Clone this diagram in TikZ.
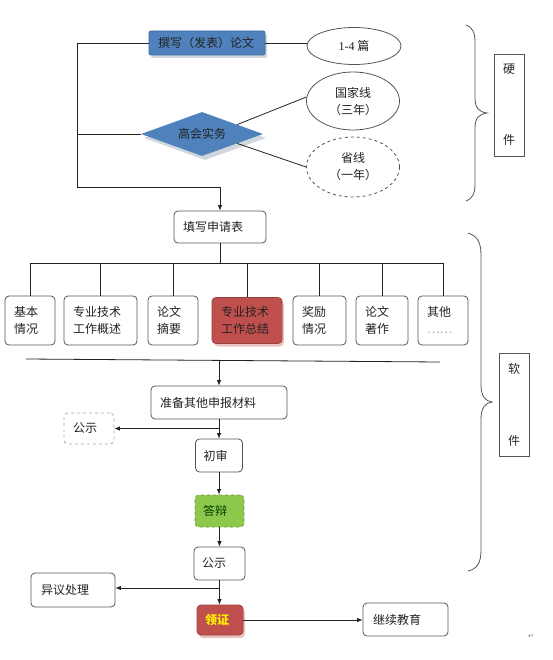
\documentclass[tikz,border=0pt]{standalone}
\usepackage{fontspec}
\setmainfont{Noto Sans CJK SC}
\newfontfamily\latserif{Liberation Serif}
\newfontfamily\dejavu{DejaVu Sans}
\usetikzlibrary{shapes.geometric,arrows.meta,shadows}
\definecolor{offblue}{HTML}{4F81BD}
\definecolor{blueedge}{HTML}{3B689F}
\definecolor{offred}{HTML}{C0504D}
\definecolor{offgreen}{HTML}{8CC84B}
\definecolor{greenedge}{HTML}{7A8F3A}
\definecolor{bord}{HTML}{555555}
\definecolor{txt}{HTML}{222222}
\definecolor{shadowgray}{HTML}{CFD6DE}
\definecolor{shadowred}{HTML}{E8C4C2}
\begin{document}
\begin{tikzpicture}[x=1pt,y=-1pt,
  base/.style={font=\fontsize{12}{17}\selectfont, text=txt},
  lbox/.style={base, draw=bord, line width=0.8pt, rounded corners=4pt, align=left,
    inner xsep=9pt, inner ysep=0pt, text width=#1},
  ell/.style={base, ellipse, draw=bord, line width=0.8pt, align=center, inner sep=0pt},
  sidebox/.style={base, draw=bord, line width=0.8pt, align=center, inner sep=0pt,
    minimum width=30pt},
  ln/.style={draw=txt, line width=0.8pt},
  arr/.style={ln, -{Latex[length=5.5pt,width=4.5pt]}},
  brace/.style={draw=bord, line width=0.8pt},
  redbox/.style={fill=offred, draw=offred!80!black,
    drop shadow={shadow xshift=2pt, shadow yshift=-3pt, fill=shadowred, opacity=1}},
]
\useasboundingbox (0,0) rectangle (553,660);

% ---------- hardware part ----------
\node[lbox=98pt, fill=offblue, draw=blueedge, minimum height=24pt, rounded corners=2pt,
  drop shadow={shadow xshift=2pt, shadow yshift=-3pt, fill=shadowgray, opacity=1}]
  (paper) at (207,43) {撰写（发表）论文};
\node[ell, minimum width=94pt, minimum height=37pt] (e1) at (354,46) {{\latserif 1-4} 篇};
\node[base, diamond, aspect=2.8, fill=offblue, minimum width=122pt, minimum height=44pt,
  inner sep=0pt,
  drop shadow={shadow xshift=3pt, shadow yshift=-4pt, fill=shadowgray, opacity=1}]
  (dia) at (202,134) {高会实务};
\node[ell, minimum width=93pt, minimum height=58pt] (e2) at (353,101) {国家线\\（三年）};
\node[ell, dashed, minimum width=93pt, minimum height=60pt] (e3) at (353,167) {省线\\（一年）};

\draw[ln] (paper.east) -- (paper.east -| e1.west);
\draw[ln] (dia.15) -- (e2.175);
\draw[ln] (dia.-15) -- (e3.west);

\node[lbox=74pt, minimum height=32pt] (fill) at (220,227) {填写申请表};
\coordinate (lc) at (77,187);
\draw[arr] (paper.west) -| (lc) -| (fill.north);
\draw[ln] (dia.west) -- (dia.west -| lc);

% ---------- materials row ----------
\node[lbox=32pt, minimum height=49pt] (b1) at (30,320.5) {基本\\情况};
\node[lbox=55pt, minimum height=49pt] (b2) at (100.5,320.5) {专业技术\\工作概述};
\node[lbox=32pt, minimum height=49pt] (b3) at (173,320.5) {论文\\摘要};
\node[lbox=52pt, minimum height=46pt, redbox] (b4) at (247,320.5) {专业技术\\工作总结};
\node[lbox=35pt, minimum height=49pt] (b5) at (319.5,320.5) {奖励\\情况};
\node[lbox=34pt, minimum height=49pt] (b6) at (382,320.5) {论文\\著作};
\node[lbox=32pt, minimum height=49pt] (b7) at (443,320.5) {其他\\{\color{gray!70}……}};

\coordinate (bus) at (219,263);
\draw[ln] (fill.south) -- (fill.south |- bus);
\draw[ln] (b1.north |- bus) -- (b7.north |- bus);
\foreach \b in {b1,b2,b3,b4,b5,b6,b7} \draw[ln] (\b.north |- bus) -- (\b.north);

\coordinate (s1) at (26,359);
\coordinate (s2) at (440,362);
\draw[ln] (s1) -- (s2);

% ---------- procedure ----------
\node[lbox=118pt, minimum height=33pt] (prep) at (219,402.5) {准备其他申报材料};
\coordinate (sm) at (219,361);
\draw[arr] (sm) -- (prep.north);

\node[lbox=32pt, minimum height=31pt, draw=gray!70, dashed] (gs1) at (89,428.5) {公示};
\node[lbox=31pt, minimum height=33pt, inner xsep=8pt] (cs) at (219,455.5) {初审};
\node[lbox=33pt, minimum height=32pt, inner xsep=8pt, fill=offgreen, draw=greenedge, dashed,
  text=green!25!black] (db) at (219.5,511) {答辩};
\node[lbox=35pt, minimum height=33pt, inner xsep=8pt] (gs2) at (219.5,563.5) {公示};
\node[lbox=30pt, minimum height=30pt, inner xsep=8pt, redbox, text=yellow,
  font=\bfseries\fontsize{12}{17}\selectfont] (lz) at (220,620) {领证};
\node[lbox=64pt, minimum height=34pt, inner xsep=10pt] (yy) at (73,590) {异议处理};
\node[lbox=65pt, minimum height=33pt, inner xsep=10pt] (jx) at (405.5,619.5) {继续教育};

\draw[arr] (prep.south) -- (prep.south |- cs.north);
\draw[arr] (prep.south |- gs1.east) -- (gs1.east);
\draw[arr] (cs.south) -- (cs.south |- db.north);
\draw[arr] (db.south) -- (db.south |- gs2.north);
\draw[arr] (gs2.south) -- (gs2.south |- lz.north);
\coordinate (yb) at (219.5,588);
\draw[arr] (yb) -- (yb -| yy.east);
\draw[arr] (lz.east) -- (lz.east -| jx.west);

% ---------- braces and side labels ----------
\draw[brace] (466,25) .. controls (472,27) and (475,32) .. (475,42) -- (475,98)
  .. controls (475,108) and (479,112) .. (487,113)
  .. controls (479,114) and (475,118) .. (475,128) -- (475,184)
  .. controls (475,194) and (472,199) .. (466,201);
\node[sidebox, minimum height=102pt] (hard) at (509,105) {硬\\[54pt]件};

\draw[brace] (468,233) .. controls (477,236) and (481,242) .. (481,255) -- (481,385)
  .. controls (481,396) and (485,401) .. (492,402)
  .. controls (485,403) and (481,408) .. (481,419) -- (481,550)
  .. controls (481,563) and (477,569) .. (468,571);
\node[sidebox, minimum height=103pt] (soft) at (514,404.5) {软\\[55pt]件};

\node[font=\dejavu\fontsize{7}{7}\selectfont, text=gray] (pm) at (531,636) {↵};
\end{tikzpicture}
\end{document}
